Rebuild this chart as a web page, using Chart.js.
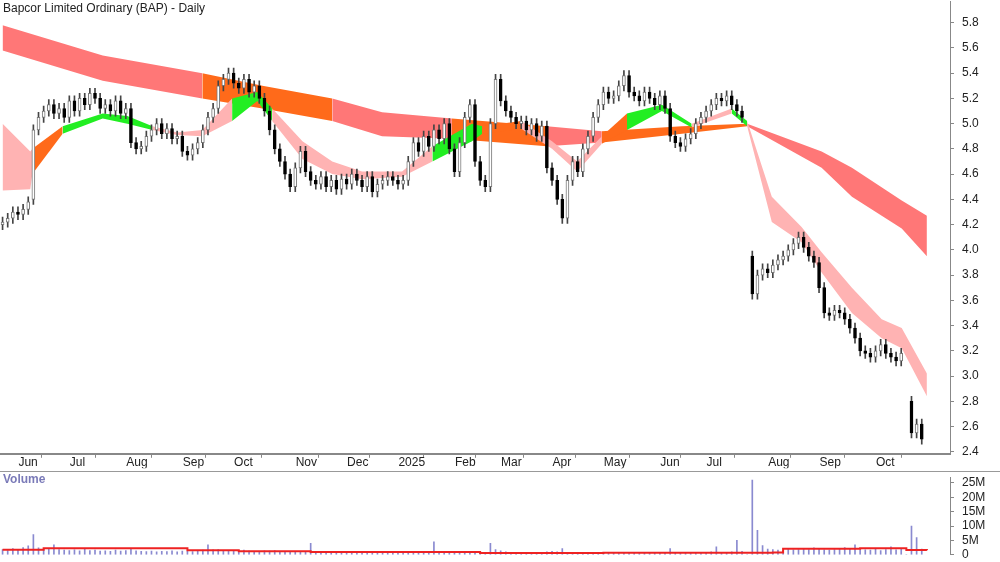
<!DOCTYPE html>
<html lang="en">
<head>
    <meta charset="UTF-8">
    <title>Bapcor Limited Ordinary (BAP) - Daily</title>
    <script src="https://cdn.jsdelivr.net/npm/chart.js"></script>
    <style>
        body { margin: 0; background: #fff; font-family: "Liberation Sans", Arial, sans-serif; }
        #wrap { position: relative; width: 1000px; height: 562px; overflow: hidden; }
        #priceBox { position: absolute; left: 0; top: -14px; width: 1000px; height: 483px; }
        #volBox { position: absolute; left: 0; top: 462px; width: 1000px; height: 108px; }
        #divider { position: absolute; left: 0; top: 471px; width: 1000px; height: 0; border-top: 1px solid #999; }
        .lbl { position: absolute; font-size: 12px; }
        #title { left: 3px; top: 1px; color: #222; }
        #volLbl { left: 3px; top: 472px; color: #7a7ab8; font-weight: bold; }
    </style>
</head>
<body>
<div id="wrap">
    <div id="priceBox"><canvas id="priceChart"></canvas></div>
    <div id="divider"></div>
    <div id="volBox"><canvas id="volChart"></canvas></div>
    <div class="lbl" id="title">Bapcor Limited Ordinary (BAP) - Daily</div>
    <div class="lbl" id="volLbl">Volume</div>
</div>
<script>
    // one bar = about two trading days
    var closes = [
        4.22,4.25,4.30,4.28,4.32,4.38, 4.95,5.05,5.10,5.15,5.08,5.12,
        5.05,5.18,5.10,5.20,5.15,5.24,5.20,5.12, 5.15,5.10,5.18,5.08,5.12,
        4.85,4.80,4.82, 4.90,4.95,5.00,4.92,4.96,4.88,4.90, 4.78,4.75,4.80,4.85,
        4.95,5.05,5.12, 5.30,5.35,5.40, 5.32,5.28,5.35,5.25,5.30,5.20,
        5.10,4.95,4.80,4.70,4.60,4.50, 4.65,4.78,4.62,4.55,
        4.52,4.58,4.50,4.55,4.48,4.56,4.52,4.60,4.55,4.50,4.58,4.46,4.52,4.55,4.58,4.55,4.52,
        4.55,4.70,4.85,4.78,4.90,4.82, 4.95,4.88,5.00,4.80,4.62,4.85, 5.05,5.15,
        4.70,4.55,4.50, 5.00,5.35, 5.18,5.10,5.05,5.00,5.02, 4.95,5.00,4.90,4.98,
        4.65,4.55,4.40,4.25, 4.55,4.70,4.62,4.80,4.90, 5.05,5.15,5.25,5.20,5.22,
        5.30,5.38,5.25, 5.22,5.18,5.25,5.20,5.15,5.22,5.12, 4.90,4.85,4.82,4.88,
        4.92,5.00,5.05,5.10, 5.15,5.20,5.18,5.22,5.15,5.10, 5.05, null,
        3.65, 3.80,3.85,3.82,3.88,3.92,3.95,4.00,4.05,4.10, 4.02,3.95,3.90, 3.70,
        3.50,3.48,3.52,3.50,3.45, 3.38,3.30,3.20, 3.18,3.15,3.20,3.25,3.18, 3.15,3.12,
        3.18, null, 2.55,2.62,2.50
    ];
    var opens = [
        4.20,4.22,4.25,4.30,4.28,4.32, 4.40,4.95,5.05,5.10,5.15,5.08,
        5.12,5.05,5.18,5.10,5.20,5.15,5.24,5.20, 5.12,5.15,5.10,5.18,5.08,
        5.12,4.85,4.80, 4.82,4.90,4.95,5.00,4.92,4.96,4.88, 4.90,4.78,4.75,4.80,
        4.85,4.95,5.05, 5.12,5.30,5.35, 5.40,5.32,5.28,5.35,5.25,5.30,
        5.20,5.10,4.95,4.80,4.70,4.60, 4.50,4.65,4.78,4.62,
        4.55,4.52,4.58,4.50,4.55,4.48,4.56,4.52,4.60,4.55,4.50,4.58,4.46,4.52,4.55,4.58,4.55,
        4.52,4.55,4.70,4.85,4.78,4.90, 4.82,4.95,4.88,5.00,4.80,4.62, 4.85,5.05,
        5.15,4.70,4.55, 4.50,5.00, 5.35,5.18,5.10,5.05,5.00, 5.02,4.95,5.00,4.90,
        4.98,4.65,4.55,4.40, 4.25,4.55,4.70,4.62,4.80, 4.90,5.05,5.15,5.25,5.20,
        5.22,5.30,5.38, 5.25,5.22,5.18,5.25,5.20,5.15,5.22, 5.12,4.90,4.85,4.82,
        4.88,4.92,5.00,5.05, 5.10,5.15,5.20,5.18,5.22,5.15, 5.10, null,
        3.95, 3.65,3.80,3.85,3.82,3.88,3.92,3.95,4.00,4.05, 4.10,4.02,3.95, 3.90,
        3.70,3.50,3.48,3.52,3.50, 3.45,3.38,3.30, 3.20,3.18,3.15,3.20,3.25, 3.18,3.15,
        3.12, null, 2.80,2.55,2.62
    ];
    var volumes = [
        1.8,1.5,2.2,1.6,2.5,3.1, 7.0,2.4,1.9,2.0,3.5,1.8,
        1.6,1.5,1.7,1.4,1.9,1.5,1.6,1.3, 1.4,1.2,1.6,1.3,1.5,
        2.0,1.4,1.2, 1.1,1.3,1.0,1.2,1.1,1.4,1.0, 1.3,1.2,1.1,1.5,
        1.6,3.5,1.7, 1.8,1.5,1.4, 1.3,1.2,1.6,1.3,1.2,1.1,
        1.4,1.3,1.5,1.2,1.1,1.0, 1.2,1.1,1.0,4.0,
        1.0,0.9,1.1,0.8,0.9,1.0,0.8,0.9,1.2,0.8,0.7,0.9,0.8,0.7,0.9,0.8,0.7,
        1.0,0.9,0.8,1.1,0.9,0.8, 4.5,0.9,0.8,0.7,0.9,0.6, 0.8,0.9,
        0.7,0.8,0.7, 4.0,1.8, 1.4,1.0,0.9,0.8,0.9, 0.7,0.8,0.9,0.8,
        1.0,1.2,1.0,2.2, 0.9,0.8,0.9,0.8,0.7, 0.8,0.9,0.7,0.8,0.7,
        0.8,0.9,0.8, 0.7,0.8,0.9,0.7,0.8,0.9,0.8, 2.2,0.9,0.8,0.7,
        0.8,0.9,0.8,0.7, 1.0,2.8,0.9,0.8,1.0,5.0, 1.2, 0,
        26.0, 8.5,3.2,2.0,1.8,1.6,1.5,1.9,1.7,1.8, 2.0,1.8,2.4,1.9,
        1.7,1.6,1.8,2.0,2.5, 1.9,3.5,1.8, 1.7,1.6,1.9,1.5,1.8, 2.8,1.7,
        1.9, 0, 10.0,6.0,2.0
    ];
    var volAvgX = [0, 8, 36, 46, 60, 93, 117, 150, 152, 167, 176, 180];
    var volAvg  = [1.8, 2.3, 1.6, 1.2, 1.0, 0.6, 0.7, 0.8, 2.1, 2.3, 1.7, 1.6];
    var volTicks = [0, 5, 10, 15, 20, 25];
    var priceTicks = [2.4, 2.6, 2.8, 3.0, 3.2, 3.4, 3.6, 3.8, 4.0, 4.2, 4.4, 4.6, 4.8, 5.0, 5.2, 5.4, 5.6, 5.8];

    // moving-average ribbons (bar index / price)
    var longX   = [0, 19.5, 38.9, 50.6, 64.2, 73.9, 87.5, 106, 116.7, 132.3, 145, 159.5, 165.4, 175.1, 180];
    var longTop = [5.78, 5.54, 5.40, 5.30, 5.20, 5.09, 5.04, 4.98, 4.94, 4.98, 5.00, 4.78, 4.65, 4.39, 4.27];
    var longBot = [5.58, 5.34, 5.20, 5.12, 5.02, 4.90, 4.88, 4.82, 4.85, 4.92, 4.98, 4.65, 4.42, 4.17, 3.95];
    var shortX   = [0, 5.4, 5.8, 11.7, 19.5, 24.3, 29.2, 34, 38.9, 44.7, 49.6, 52.5, 58.4, 64.2, 70, 77.8, 83.7,
                    91.4, 93.4, 101, 107, 111.9, 116.7, 121.6, 128.4, 134.2, 142, 145, 149.8, 155.6, 159.5,
                    165.4, 171.2, 175.1, 180];
    var shortTop = [5.00, 4.78, 4.80, 4.98, 5.08, 5.06, 4.98, 4.93, 4.95, 5.20, 5.25, 5.12, 4.86, 4.70, 4.62, 4.62, 4.82,
                    5.00, 4.98, 5.02, 4.86, 4.70, 4.90, 5.08, 5.15, 5.00, 5.12, 5.02, 4.42, 4.18, 3.98,
                    3.70, 3.45, 3.38, 3.02];
    var shortBot = [4.47, 4.48, 4.60, 4.92, 5.04, 5.00, 4.95, 4.91, 4.90, 5.02, 5.18, 5.02, 4.72, 4.60, 4.56, 4.58, 4.70,
                    4.86, 4.92, 4.96, 4.80, 4.62, 4.84, 4.95, 5.10, 4.97, 5.08, 4.98, 4.22, 4.06, 3.82,
                    3.50, 3.30, 3.22, 2.84];

    var monthBars   = [2.5, 12.5, 23.5, 34.5, 44.5, 56.5, 66.5, 76.5, 87.5, 96.5, 106.5, 116.5, 127.5, 136.5, 148.5, 158.5, 169.5];
    var monthLabels = ['Jun','Jul','Aug','Sep','Oct','Nov','Dec','2025','Feb','Mar','Apr','May','Jun','Jul','Aug','Sep','Oct'];

    // ribbon colour ranges [from bar, to bar, colour]
    var shortColours = [[5.5, 11.5, '#ff6a1a'], [11.5, 24.5, '#22ee22'], [40, 51, '#22ee22'], [81, 91.5, '#22ee22'],
                        [91.5, 96, '#ff6a1a'], [96, 101, '#22ee22'], [113, 117, '#ff6a1a'], [117, 131, '#22ee22'], [136, 145, '#22ee22']];
    var longColours = [[38, 51, '#ff6a1a'], [84, 106, '#ff6a1a'], [115, 145, '#ff6a1a']];

    function pts(xs, ys) { return xs.map((x, i) => ({x: x, y: ys[i]})); }
    function pick(list, x, dflt) {
        for (const r of list) if (x >= r[0] && x < r[1]) return r[2];
        return dflt;
    }

    var bodies = [], wicks = [];
    closes.forEach((c, i) => {
        if (c === null) return;
        var o = opens[i];
        bodies.push({x: i, y: [o, c], up: c >= o});
        wicks.push({x: i, y: [Math.min(o, c) - 0.04, Math.max(o, c) + 0.04]});
    });

    var fixWidth = { afterFit: s => { s.width = 50; } };
    var xCommon = {
        type: 'linear', min: -0.5, max: 184.5, offset: false,
        afterBuildTicks: s => { s.ticks = monthBars.map(v => ({value: v})); }
    };

    new Chart(document.getElementById('priceChart'), {
        data: {
            datasets: [
                { type: 'line', data: pts(longX, longTop), borderWidth: 0, pointRadius: 0, fill: '+1', backgroundColor: '#ff7777', order: 5,
                  segment: { backgroundColor: c => pick(longColours, c.p0.parsed.x, '#ff7777') } },
                { type: 'line', data: pts(longX, longBot), borderWidth: 0, pointRadius: 0, fill: false, order: 5 },
                { type: 'line', data: pts(shortX, shortTop), borderWidth: 0, pointRadius: 0, fill: '+1', backgroundColor: '#ffb3b3', order: 4,
                  segment: { backgroundColor: c => pick(shortColours, c.p0.parsed.x, '#ffb3b3') } },
                { type: 'line', data: pts(shortX, shortBot), borderWidth: 0, pointRadius: 0, fill: false, order: 4 },
                { type: 'bar', data: wicks, backgroundColor: '#444', barThickness: 1, grouped: false, order: 2 },
                { type: 'bar', data: bodies, barThickness: 3, grouped: false, order: 1, borderWidth: 1, borderSkipped: false,
                  backgroundColor: bodies.map(b => b.up ? '#fff' : '#000'),
                  borderColor: bodies.map(b => b.up ? '#777' : '#000') }
            ]
        },
        options: {
            animation: false, responsive: true, maintainAspectRatio: false,
            layout: { padding: 0 },
            plugins: { legend: { display: false }, tooltip: { enabled: false } },
            scales: {
                x: Object.assign({}, xCommon, {
                    grid: { drawOnChartArea: false, color: '#888', tickLength: 4 },
                    border: { color: '#888', width: 2 },
                    ticks: { autoSkip: false, maxRotation: 0, align: 'start', labelOffset: 3, padding: -2,
                             color: '#222', font: { family: 'Liberation Sans', size: 12 },
                             callback: v => monthLabels[monthBars.indexOf(v)] }
                }),
                y: Object.assign({}, fixWidth, {
                    position: 'right', min: 2.384, max: 5.97,
                    grid: { drawOnChartArea: false, color: '#888', tickLength: 4 },
                    border: { color: '#888' },
                    ticks: { autoSkip: false, color: '#222', padding: 8, font: { family: 'Liberation Sans', size: 12 },
                             callback: v => v.toFixed(1) },
                    afterBuildTicks: s => { s.ticks = priceTicks.map(v => ({value: v})); }
                })
            }
        }
    });

    new Chart(document.getElementById('volChart'), {
        data: {
            datasets: [
                { type: 'line', data: pts(volAvgX, volAvg), borderColor: '#ee2222', borderWidth: 2, pointRadius: 0, stepped: true, order: 1 },
                { type: 'bar', data: volumes.map((v, i) => ({x: i, y: v})), backgroundColor: '#8a8ad0', barThickness: 1, order: 2 }
            ]
        },
        options: {
            animation: false, responsive: true, maintainAspectRatio: false,
            layout: { padding: { top: 0, bottom: 4 } },
            plugins: { legend: { display: false }, tooltip: { enabled: false } },
            scales: {
                x: Object.assign({}, xCommon, { display: false }),
                y: Object.assign({}, fixWidth, {
                    position: 'right', min: 0, max: 27,
                    grid: { drawOnChartArea: false, color: '#888', tickLength: 4 },
                    border: { color: '#888' },
                    ticks: { autoSkip: false, color: '#222', padding: 8, font: { family: 'Liberation Sans', size: 12 },
                             callback: v => v === 0 ? '0' : v + 'M' },
                    afterBuildTicks: s => { s.ticks = volTicks.map(v => ({value: v})); }
                })
            }
        }
    });
</script>
</body>
</html>
